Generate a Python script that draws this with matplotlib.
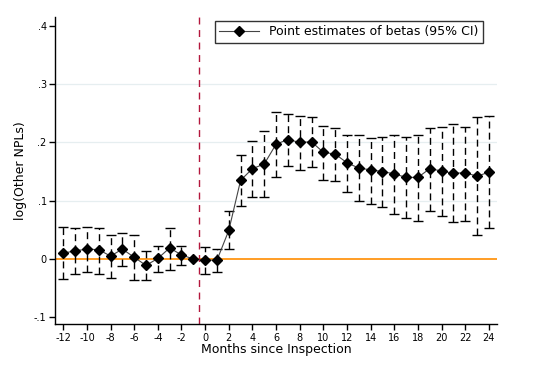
import numpy as np
import matplotlib.pyplot as plt

plt.rcParams["axes.unicode_minus"] = False

# Event-study estimates
months = np.arange(-12, 25)
beta = np.array([
    0.010, 0.014, 0.017, 0.016, 0.005, 0.017, 0.003, -0.011, 0.001, 0.019, 0.007, 0.000,
    -0.002, -0.002, 0.049, 0.135, 0.155, 0.163, 0.197, 0.205, 0.200, 0.201, 0.183, 0.180,
    0.165, 0.156, 0.153, 0.150, 0.146, 0.140, 0.140, 0.155, 0.151, 0.147, 0.148, 0.142, 0.149
])
ci_hi = np.array([
    0.055, 0.053, 0.055, 0.054, 0.042, 0.045, 0.042, 0.013, 0.023, 0.054, 0.023, 0.000,
    0.021, 0.018, 0.082, 0.179, 0.203, 0.219, 0.253, 0.249, 0.246, 0.243, 0.229, 0.225,
    0.213, 0.213, 0.208, 0.210, 0.212, 0.210, 0.213, 0.225, 0.227, 0.231, 0.227, 0.243, 0.245
])
ci_lo = np.array([
    -0.035, -0.026, -0.023, -0.025, -0.033, -0.012, -0.036, -0.036, -0.022, -0.018, -0.010, 0.000,
    -0.026, -0.023, 0.017, 0.091, 0.106, 0.106, 0.140, 0.160, 0.152, 0.157, 0.136, 0.133,
    0.115, 0.100, 0.095, 0.090, 0.078, 0.070, 0.066, 0.083, 0.073, 0.063, 0.065, 0.041, 0.054
])
has_ci = months != -1

xticks = np.arange(-12, 25, 2)
yticks = [-0.1, 0, 0.1, 0.2, 0.3, 0.4]
ytick_labels = ["-.1", "0", ".1", ".2", ".3", ".4"]

fig = plt.figure(figsize=(5.47, 3.65), dpi=100)
ax = fig.add_axes([0.1005, 0.1115, 0.808, 0.8425])

# grid lines
for yv in [0.1, 0.2, 0.3]:
    ax.axhline(yv, color="#e6eef0", lw=0.9, zorder=0)

ax.axhline(0, color="#ff8c00", lw=1.2, zorder=1)
ax.axvline(-0.5, color="#b3173d", lw=1.0, ls=(0, (5, 4)), zorder=1)

# confidence intervals (dashed bars with solid caps)
yerr = np.vstack([beta[has_ci] - ci_lo[has_ci], ci_hi[has_ci] - beta[has_ci]])
eb = ax.errorbar(months[has_ci], beta[has_ci], yerr=yerr, fmt="none",
                 ecolor="black", elinewidth=1.0, capsize=3.5, capthick=1.0, zorder=2)
eb[2][0].set_linestyle((0, (5, 3)))

ax.plot(months, beta, color="#444444", lw=0.8, marker="D", markersize=4.8,
        markerfacecolor="black", markeredgecolor="black", zorder=3,
        label="Point estimates of betas (95% CI)")

ax.set_xlim(-12.7, 24.68)
ax.set_ylim(-0.112, 0.4155)
ax.set_xticks(xticks)
ax.set_yticks(yticks)
ax.set_yticklabels(ytick_labels)
ax.tick_params(axis="both", labelsize=7, length=4, width=1, direction="out", pad=2)
for s in ["top", "right"]:
    ax.spines[s].set_visible(False)
for s in ["left", "bottom"]:
    ax.spines[s].set_linewidth(1.0)

ax.set_xlabel("Months since Inspection", fontsize=9, labelpad=0)
ax.set_ylabel("log(Other NPLs)", fontsize=9, labelpad=5)

leg = ax.legend(loc="upper left", bbox_to_anchor=(215 / 547, 1 - 21 / 365),
                bbox_transform=fig.transFigure, fontsize=9, frameon=True,
                fancybox=False, handlelength=3.2, borderpad=0.35, borderaxespad=0)
leg.get_frame().set_edgecolor("black")
leg.get_frame().set_linewidth(1.0)

fig.savefig("out.png", dpi=100)
